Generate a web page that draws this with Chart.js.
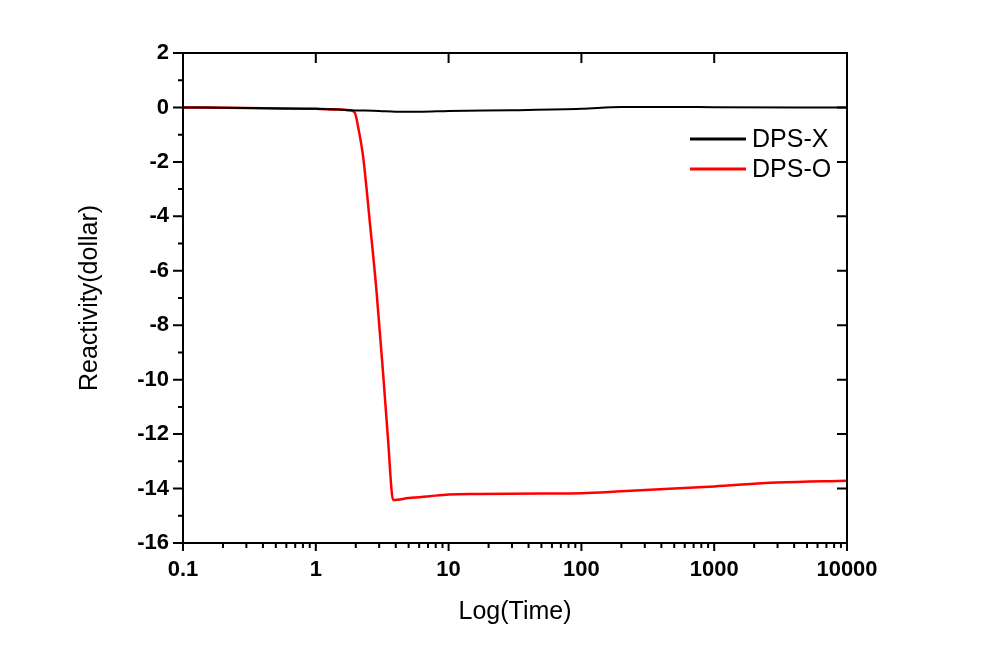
<!DOCTYPE html>
<html>
<head>
<meta charset="utf-8">
<script src="https://cdn.jsdelivr.net/npm/chart.js@4.4.1/dist/chart.umd.min.js"></script>
<style>
  html, body { margin: 0; padding: 0; background: #fff; }
  #wrap { width: 996px; height: 651px; }
</style>
</head>
<body>
<div id="wrap"><canvas id="reactChart" width="996" height="651"></canvas></div>
<script>
// data (time in s, reactivity in $)
const timeX = [0.1, 0.3, 1, 1.5, 1.8, 3, 4, 6, 10, 30, 100, 200, 500, 1000, 10000];
const dpsX  = [0, -0.02, -0.05, -0.08, -0.1, -0.13, -0.16, -0.16, -0.13, -0.1, -0.05, 0.02, 0.02, 0.01, 0];

const timeO = [0.1, 0.3, 1, 1.5, 1.8, 1.97, 2.08, 2.27, 2.55, 2.86, 3.21, 3.5, 3.82, 5, 7.2, 10, 17, 50, 100, 200, 500, 1000, 3000, 10000];
const dpsO  = [0, -0.02, -0.05, -0.08, -0.1, -0.2, -0.7, -1.8, -4.2, -6.7, -9.75, -12.2, -14.42, -14.35, -14.28, -14.22, -14.2, -14.18, -14.17, -14.1, -14.0, -13.92, -13.78, -13.71];

const xMajor = [0.1, 1, 10, 100, 1000, 10000];
const yTicks = [2, 0, -2, -4, -6, -8, -10, -12, -14, -16];

function toPoints(xs, ys) {
  return xs.map((x, i) => ({ x: x, y: ys[i] }));
}

// minor log ticks 2..9 in each decade
function xMinor() {
  const out = [];
  for (let d = 0; d < xMajor.length - 1; d++) {
    for (let k = 2; k <= 9; k++) out.push(xMajor[d] * k);
  }
  return out;
}

// frame, ticks (outward on main axes, inward on mirror axes) and legend
const framePlugin = {
  id: 'frame',
  afterDraw(chart) {
    const ctx = chart.ctx;
    const a = chart.chartArea;
    const xs = chart.scales.x, ys = chart.scales.y;
    ctx.save();
    ctx.strokeStyle = '#000';
    ctx.lineWidth = 2;
    ctx.strokeRect(a.left, a.top, a.right - a.left, a.bottom - a.top);
    ctx.beginPath();
    xMajor.forEach(v => {
      const px = xs.getPixelForValue(v);
      ctx.moveTo(px, a.bottom); ctx.lineTo(px, a.bottom + 8);
      ctx.moveTo(px, a.top); ctx.lineTo(px, a.top + 10);
    });
    xMinor().forEach(v => {
      const px = xs.getPixelForValue(v);
      ctx.moveTo(px, a.bottom); ctx.lineTo(px, a.bottom + 5);
    });
    for (let v = -16; v <= 2; v++) {
      const py = ys.getPixelForValue(v);
      if (v % 2 === 0) {
        ctx.moveTo(a.left - 10, py); ctx.lineTo(a.left, py);
        ctx.moveTo(a.right - 10, py); ctx.lineTo(a.right, py);
      } else {
        ctx.moveTo(a.left - 5, py); ctx.lineTo(a.left, py);
      }
    }
    ctx.stroke();

    // legend
    ctx.font = '25px "Liberation Sans", Arial, sans-serif';
    ctx.textBaseline = 'middle';
    ctx.textAlign = 'left';
    chart.data.datasets.forEach((ds, i) => {
      const y = a.top + 86 + i * 30;
      const x0 = a.right - 157;
      ctx.strokeStyle = ds.borderColor;
      ctx.lineWidth = 3;
      ctx.beginPath();
      ctx.moveTo(x0, y); ctx.lineTo(x0 + 56, y);
      ctx.stroke();
      ctx.fillStyle = '#000';
      ctx.fillText(ds.label, x0 + 62, y + 1);
    });
    ctx.restore();
  }
};

const ctx = document.getElementById('reactChart').getContext('2d');
const reactChart = new Chart(ctx, {
  type: 'line',
  data: {
    datasets: [{
      label: 'DPS-X',
      data: toPoints(timeX, dpsX),
      borderColor: '#000000',
      borderWidth: 2,
      pointRadius: 0,
      cubicInterpolationMode: 'monotone'
    }, {
      label: 'DPS-O',
      data: toPoints(timeO, dpsO),
      borderColor: '#ff0000',
      borderWidth: 2.5,
      pointRadius: 0,
      cubicInterpolationMode: 'monotone'
    }]
  },
  options: {
    responsive: false,
    animation: false,
    layout: { padding: { left: 0, top: 53, right: 149, bottom: 0 } },
    plugins: {
      legend: { display: false },
      tooltip: { enabled: false }
    },
    scales: {
      x: {
        type: 'logarithmic',
        min: 0.1,
        max: 10000,
        afterBuildTicks: s => { s.ticks = xMajor.map(v => ({ value: v })); },
        afterFit: s => { s.height = 108; },
        grid: { display: false, drawTicks: false },
        border: { display: false },
        ticks: {
          padding: 14,
          color: '#000',
          maxRotation: 0,
          font: { family: '"Liberation Sans", Arial, sans-serif', size: 22, weight: 'bold' },
          callback: v => String(v)
        },
        title: {
          display: true,
          text: 'Log(Time)',
          color: '#000',
          font: { family: '"Liberation Sans", Arial, sans-serif', size: 25 },
          padding: { top: 0, bottom: 24 }
        }
      },
      y: {
        min: -16,
        max: 2,
        afterBuildTicks: s => { s.ticks = yTicks.map(v => ({ value: v })); },
        afterFit: s => { s.width = 183; },
        grid: { display: false, drawTicks: false },
        border: { display: false },
        ticks: {
          padding: 14,
          color: '#000',
          font: { family: '"Liberation Sans", Arial, sans-serif', size: 22, weight: 'bold' }
        },
        title: {
          display: true,
          text: 'Reactivity(dollar)',
          color: '#000',
          font: { family: '"Liberation Sans", Arial, sans-serif', size: 25 },
          padding: { top: 75, bottom: 0 }
        }
      }
    }
  },
  plugins: [framePlugin]
});
</script>
</body>
</html>
